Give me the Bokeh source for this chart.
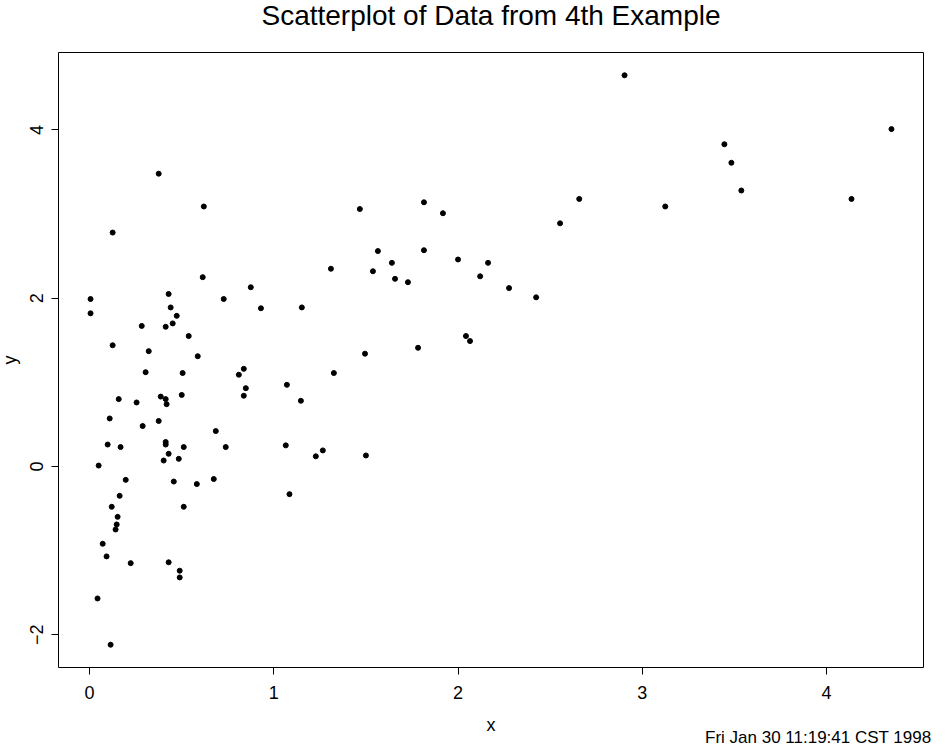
from bokeh.plotting import figure
from bokeh.models import Range1d, FixedTicker, Title
from bokeh.embed import file_html
from bokeh.resources import INLINE

title_text = "Scatterplot of Data from 4th Example"
x_label = "x"
y_label = "y"
stamp_text = "Fri Jan 30 11:19:41 CST 1998"
x_ticks = [0, 1, 2, 3, 4]
y_ticks = [-2, 0, 2, 4]

x = [0.375, 0.62, 0.125, 0.614, 0.875, 0.005, 0.429, 0.728, 0.93, 0.005,
     0.44, 0.473, 0.283, 0.413, 0.451, 0.538, 0.125, 0.321, 0.587, 0.304,
     0.505, 0.837, 0.81, 0.848, 0.837, 0.158, 0.255, 0.386, 0.413, 0.418,
     0.50, 0.109, 0.288, 0.375, 0.685, 0.098, 0.168, 0.413, 0.413, 0.511,
     0.739, 0.429, 0.402, 0.484, 0.049, 0.196, 0.457, 0.582, 0.674, 0.163,
     0.12, 0.511, 0.152, 0.147, 0.141, 0.071, 0.092, 0.223, 0.429, 0.489,
     0.489, 0.043, 0.114, 1.467, 1.565, 1.31, 1.538, 1.152, 1.495, 1.326,
     1.071, 1.147, 1.065, 1.266, 1.228, 1.50, 1.085, 1.815, 1.918, 2.554,
     1.815, 2.0, 2.163, 1.641, 1.658, 1.728, 2.12, 2.277, 2.424, 2.043,
     2.065, 1.783, 2.904, 4.353, 3.446, 3.484, 3.538, 2.658, 3.125, 4.136]
y = [3.48, 3.09, 2.78, 2.25, 2.13, 1.99, 2.05, 1.99, 1.88, 1.82,
     1.89, 1.79, 1.67, 1.66, 1.70, 1.55, 1.44, 1.37, 1.31, 1.12,
     1.11, 1.16, 1.09, 0.93, 0.84, 0.80, 0.76, 0.83, 0.80, 0.74,
     0.85, 0.57, 0.48, 0.54, 0.42, 0.26, 0.23, 0.29, 0.26, 0.23,
     0.23, 0.15, 0.07, 0.09, 0.01, -0.16, -0.18, -0.21, -0.15, -0.35,
     -0.48, -0.48, -0.60, -0.69, -0.75, -0.92, -1.07, -1.15, -1.14, -1.24,
     -1.32, -1.57, -2.12, 3.06, 2.56, 2.35, 2.32, 1.89, 1.34, 1.11,
     0.97, 0.78, 0.25, 0.19, 0.12, 0.13, -0.33, 3.14, 3.01, 2.89,
     2.57, 2.46, 2.42, 2.42, 2.23, 2.19, 2.26, 2.12, 2.01, 1.55,
     1.49, 1.41, 4.65, 4.01, 3.83, 3.61, 3.28, 3.18, 3.09, 3.18]

FONT = "Liberation Sans"

xr = max(x) - min(x)
yr = max(y) - min(y)

p = figure(width=955, height=767, output_backend="svg", toolbar_location=None,
           x_range=Range1d(min(x) - 0.04 * xr, max(x) + 0.04 * xr),
           y_range=Range1d(min(y) - 0.04 * yr, max(y) + 0.04 * yr),
           min_border_left=68, min_border_right=22,
           min_border_top=73, min_border_bottom=79)
p.margin = (-21, 0, 0, -10)

p.background_fill_color = "white"
p.border_fill_color = "white"
p.outline_line_color = "black"
p.outline_line_width = 1
p.xgrid.visible = False
p.ygrid.visible = False

p.title.text = title_text
p.title.text_font = FONT
p.title.text_font_size = "28px"
p.title.text_font_style = "normal"
p.title.align = "center"
p.title.text_color = "black"
p.title.vertical_align = "top"
p.title.standoff = 39

for ax, ticks in ((p.xaxis[0], x_ticks), (p.yaxis[0], y_ticks)):
    ax.ticker = FixedTicker(ticks=ticks)
    ax.axis_line_color = None
    ax.major_tick_line_color = "black"
    ax.major_tick_out = 7
    ax.major_tick_in = 0
    ax.minor_tick_line_color = None
    ax.major_label_text_font = FONT
    ax.major_label_text_font_size = "18px"
    ax.major_label_text_color = "black"
    ax.axis_label_text_font = FONT
    ax.axis_label_text_font_size = "18px"
    ax.axis_label_text_font_style = "normal"
    ax.axis_label_text_color = "black"

p.xaxis.axis_label = x_label
p.yaxis.axis_label = y_label
p.xaxis.major_label_standoff = 11
p.xaxis.axis_label_standoff = 13
p.yaxis.major_label_standoff = 8
p.yaxis.axis_label_standoff = 8
p.yaxis.major_label_orientation = "vertical"

p.scatter(x, y, size=5, color="black", marker="circle")

stamp = Title(text=stamp_text, align="right", vertical_align="top", text_font=FONT,
              text_font_size="17px", text_font_style="normal", text_color="black",
              standoff=-20, offset=-8)
p.add_layout(stamp, "below")

open("out.html", "w").write(file_html(p, INLINE))
